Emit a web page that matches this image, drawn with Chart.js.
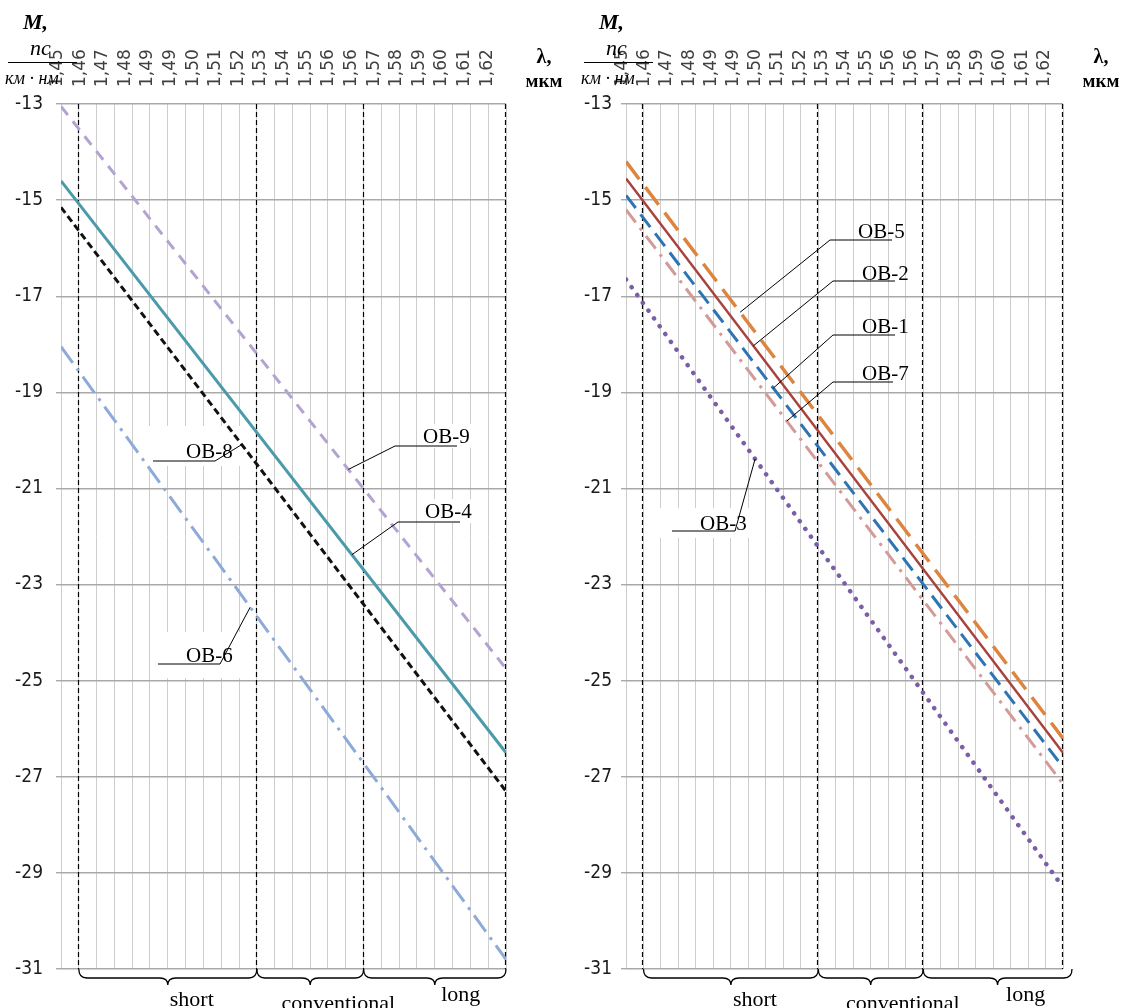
<!DOCTYPE html>
<html>
<head>
<meta charset="utf-8">
<script src="https://cdn.jsdelivr.net/npm/chart.js@4.4.1/dist/chart.umd.min.js"></script>
<style>
  html, body { margin: 0; padding: 0; background: #fff; }
  #wrap { position: relative; width: 1128px; height: 1008px; overflow: hidden; }
  .panel { position: absolute; top: 0; width: 564px; height: 1008px; }
  #leftPanel { left: 0; }
  #rightPanel { left: 564px; }
</style>
</head>
<body>
<div id="wrap">
  <div class="panel" id="leftPanel"><canvas id="leftChart" width="564" height="1008"></canvas></div>
  <div class="panel" id="rightPanel"><canvas id="rightChart" width="564" height="1008"></canvas></div>
</div>
<script>
// wavelength, µm (ends of every line)
const wavelengths = [1.45, 1.625];
const xTickLabels = ['1,45', '1,46', '1,47', '1,48', '1,49', '1,49', '1,50', '1,51', '1,52', '1,53',
                     '1,54', '1,55', '1,56', '1,56', '1,57', '1,58', '1,59', '1,60', '1,61', '1,62'];
const labelStep = 0.00889;
const gridStep = 0.007;
const bandEdges = [1.457, 1.527, 1.569, 1.625];
const bandNames = ['short', 'conventional', 'long'];

// dispersion slope M, ps/(km·nm)
const ob9 = [-13.05, -24.75];
const ob4 = [-14.6, -26.5];
const ob8 = [-15.15, -27.3];
const ob6 = [-18.05, -30.8];

const ob5 = [-14.2, -26.2];
const ob2 = [-14.55, -26.5];
const ob1 = [-14.9, -26.8];
const ob7 = [-15.2, -27.15];
const ob3 = [-16.65, -29.3];

const X_MIN = 1.45, X_MAX = 1.625;
const Y_MIN = -31, Y_MAX = -13;
const SERIF = '"Liberation Serif", "Times New Roman", serif';

const leftSeries = [
    { name: 'OB-9', values: ob9, color: '#b4a3d2', width: 3, dash: [11, 8] },
    { name: 'OB-4', values: ob4, color: '#4a9aaa', width: 3, dash: [] },
    { name: 'OB-8', values: ob8, color: '#111111', width: 3, dash: [7, 4] },
    { name: 'OB-6', values: ob6, color: '#8eaad9', width: 3, dash: [20, 7, 3, 7] }
];

const rightSeries = [
    { name: 'OB-5', values: ob5, color: '#dd843f', width: 3.5, dash: [22, 10] },
    { name: 'OB-2', values: ob2, color: '#a8423c', width: 2.5, dash: [] },
    { name: 'OB-1', values: ob1, color: '#2e74b5', width: 3, dash: [16, 8] },
    { name: 'OB-7', values: ob7, color: '#d49a97', width: 3, dash: [16, 7, 3, 7] },
    { name: 'OB-3', values: ob3, color: '#7b5ea6', width: 4.5, dash: [0.1, 9.5], cap: 'round' }
];

// label layout, canvas pixels: text position, leader shelf [x0, x1, y], optional white box
const leftLabels = [
    { name: 'OB-8', at: 1.5211, text: [186, 458], shelf: [153, 215, 461], box: [148, 426, 108, 40] },
    { name: 'OB-9', at: 1.5630, text: [423, 443], shelf: [395, 457, 446], box: [418, 424, 60, 24] },
    { name: 'OB-4', at: 1.5644, text: [425, 518], shelf: [398, 460, 522], box: [420, 499, 60, 24] },
    { name: 'OB-6', at: 1.5244, text: [186, 662], shelf: [158, 220, 664], box: [150, 632, 104, 46] }
];

const rightLabels = [
    { name: 'OB-5', at: 1.4957, text: [294, 238], shelf: [266, 328, 240] },
    { name: 'OB-2', at: 1.5010, text: [298, 280], shelf: [269, 331, 281] },
    { name: 'OB-1', at: 1.5090, text: [298, 333], shelf: [269, 331, 335] },
    { name: 'OB-7', at: 1.5144, text: [298, 380], shelf: [269, 329, 382] },
    { name: 'OB-3', at: 1.5017, text: [136, 530], shelf: [108, 171, 531], box: [96, 508, 96, 30] }
];

const panelDecor = {
    id: 'panelDecor',
    beforeDatasetsDraw(chart, args, opts) {
        const ctx = chart.ctx;
        const area = chart.chartArea;
        const x = chart.scales.x;
        ctx.save();
        ctx.fillStyle = '#fff';
        opts.labels.forEach(l => { if (l.box) ctx.fillRect(l.box[0], l.box[1], l.box[2], l.box[3]); });

        ctx.strokeStyle = '#000';
        ctx.lineWidth = 1.2;
        ctx.setLineDash([5, 3]);
        bandEdges.forEach(edge => {
            const px = Math.round(x.getPixelForValue(edge)) - 0.5;
            ctx.beginPath();
            ctx.moveTo(px, area.top);
            ctx.lineTo(px, area.bottom);
            ctx.stroke();
        });
        ctx.restore();
    },
    afterDraw(chart, args, opts) {
        const ctx = chart.ctx;
        const area = chart.chartArea;
        const x = chart.scales.x;
        ctx.save();

        // braces under the bands
        ctx.strokeStyle = '#000';
        ctx.lineWidth = 1.3;
        const top = area.bottom, h1 = 9, h2 = 16, r = 8;
        for (let i = 0; i < bandNames.length; i++) {
            const x0 = x.getPixelForValue(bandEdges[i]);
            const x1 = x.getPixelForValue(bandEdges[i + 1]) + (i === bandNames.length - 1 ? opts.lastBraceExtra : 0);
            const mid = (x0 + x1) / 2;
            ctx.beginPath();
            ctx.moveTo(x0, top);
            ctx.quadraticCurveTo(x0, top + h1, x0 + r, top + h1);
            ctx.lineTo(mid - r, top + h1);
            ctx.quadraticCurveTo(mid, top + h1, mid, top + h2);
            ctx.quadraticCurveTo(mid, top + h1, mid + r, top + h1);
            ctx.lineTo(x1 - r, top + h1);
            ctx.quadraticCurveTo(x1, top + h1, x1, top);
            ctx.stroke();

            ctx.fillStyle = '#000';
            ctx.font = '22px ' + SERIF;
            ctx.textAlign = 'center';
            ctx.textBaseline = 'alphabetic';
            ctx.fillText(bandNames[i], mid + opts.bandTextShift[i], opts.bandTextY[i]);
        }

        // series labels with leader lines
        ctx.lineWidth = 1;
        ctx.font = '21px ' + SERIF;
        ctx.textAlign = 'left';
        opts.labels.forEach(l => {
            const idx = chart.data.datasets.findIndex(d => d.label === l.name);
            const pts = chart.getDatasetMeta(idx).data;
            const tx = x.getPixelForValue(l.at);
            const t = (tx - pts[0].x) / (pts[1].x - pts[0].x);
            const ty = pts[0].y + t * (pts[1].y - pts[0].y);
            const [s0, s1, sy] = l.shelf;
            const from = tx > s1 ? s1 : s0;
            ctx.beginPath();
            ctx.moveTo(s0, sy);
            ctx.lineTo(s1, sy);
            ctx.moveTo(from, sy);
            ctx.lineTo(tx, ty);
            ctx.stroke();
            ctx.fillText(l.name, l.text[0], l.text[1]);
        });

        // axis titles
        const ox = opts.titleShift;
        ctx.font = 'italic bold 22px ' + SERIF;
        ctx.fillText('M,', 23 + ox, 29);
        ctx.font = 'italic 22px ' + SERIF;
        ctx.fillText('пс', 30 + ox, 55);
        ctx.beginPath();
        ctx.moveTo(8 + ox, 62.5);
        ctx.lineTo(77 + ox, 62.5);
        ctx.stroke();
        ctx.font = 'italic 18px ' + SERIF;
        ctx.fillText('км · нм', 5 + ox, 84);

        ctx.textAlign = 'center';
        ctx.font = 'bold 20px ' + SERIF;
        ctx.fillText('λ,', area.right + 38, 63);
        ctx.font = 'bold 19px ' + SERIF;
        ctx.fillText('мкм', area.right + 38, 87);
        ctx.restore();
    }
};

function buildDatasets(series) {
    return series.map(s => ({
        label: s.name,
        data: wavelengths.map((w, i) => ({ x: w, y: s.values[i] })),
        borderColor: s.color,
        borderWidth: s.width,
        borderDash: s.dash,
        borderCapStyle: s.cap || 'butt',
        pointRadius: 0,
        fill: false,
        tension: 0,
        xAxisID: 'x',
        yAxisID: 'y'
    }));
}

function createPanel(canvasId, series, panel) {
    const ctx = document.getElementById(canvasId).getContext('2d');

    return new Chart(ctx, {
        type: 'line',
        data: { datasets: buildDatasets(series) },
        plugins: [panelDecor],
        options: {
            responsive: false,
            animation: false,
            devicePixelRatio: 1,
            layout: { padding: { left: 0, right: panel.rightPad, top: 0, bottom: 39 } },
            plugins: {
                legend: { display: false },
                tooltip: { enabled: false },
                panelDecor: panel.decor
            },
            scales: {
                x: {
                    type: 'linear',
                    position: 'top',
                    min: X_MIN,
                    max: X_MAX,
                    afterBuildTicks: scale => {
                        scale.ticks = xTickLabels.map((_, i) => ({ value: X_MIN + i * labelStep }));
                    },
                    afterFit: scale => { scale.height = 104; },
                    grid: { display: false, drawTicks: false },
                    border: { display: false },
                    ticks: {
                        autoSkip: false,
                        minRotation: 90,
                        maxRotation: 90,
                        padding: 17,
                        labelOffset: 17,
                        color: '#404040',
                        font: { family: '"DejaVu Sans", Verdana, sans-serif', size: 17 },
                        callback: (value, index) => xTickLabels[index]
                    }
                },
                xGrid: {
                    type: 'linear',
                    axis: 'x',
                    position: 'top',
                    min: X_MIN,
                    max: X_MAX,
                    afterBuildTicks: scale => {
                        const n = Math.round((X_MAX - X_MIN) / gridStep);
                        const ticks = [];
                        for (let k = 0; k <= n; k++) ticks.push({ value: X_MIN + k * gridStep });
                        scale.ticks = ticks;
                    },
                    afterFit: scale => { scale.height = 0; },
                    ticks: { display: false },
                    grid: { color: '#cdcdcd', lineWidth: 1, drawTicks: false },
                    border: { display: false }
                },
                y: {
                    type: 'linear',
                    min: Y_MIN,
                    max: Y_MAX,
                    afterFit: scale => { scale.width = panel.yWidth; },
                    ticks: {
                        stepSize: 2,
                        padding: panel.yPad,
                        color: '#1a1a1a',
                        font: { family: '"Liberation Sans Narrow", "DejaVu Sans Condensed", sans-serif', size: 19 }
                    },
                    grid: { color: '#a9a9a9', lineWidth: 1.4, drawTicks: true, tickLength: 5 },
                    border: { display: false }
                }
            }
        }
    });
}

createPanel('leftChart', leftSeries, {
    rightPad: 58, yWidth: 61, yPad: 13,
    decor: { labels: leftLabels, titleShift: 0, lastBraceExtra: 0,
             bandTextShift: [24, 28, 26], bandTextY: [1006, 1010, 1001] }
});

createPanel('rightChart', rightSeries, {
    rightPad: 65, yWidth: 62, yPad: 9,
    decor: { labels: rightLabels, titleShift: 12, lastBraceExtra: 9,
             bandTextShift: [24, 32, 28], bandTextY: [1006, 1010, 1001] }
});
</script>
</body>
</html>
